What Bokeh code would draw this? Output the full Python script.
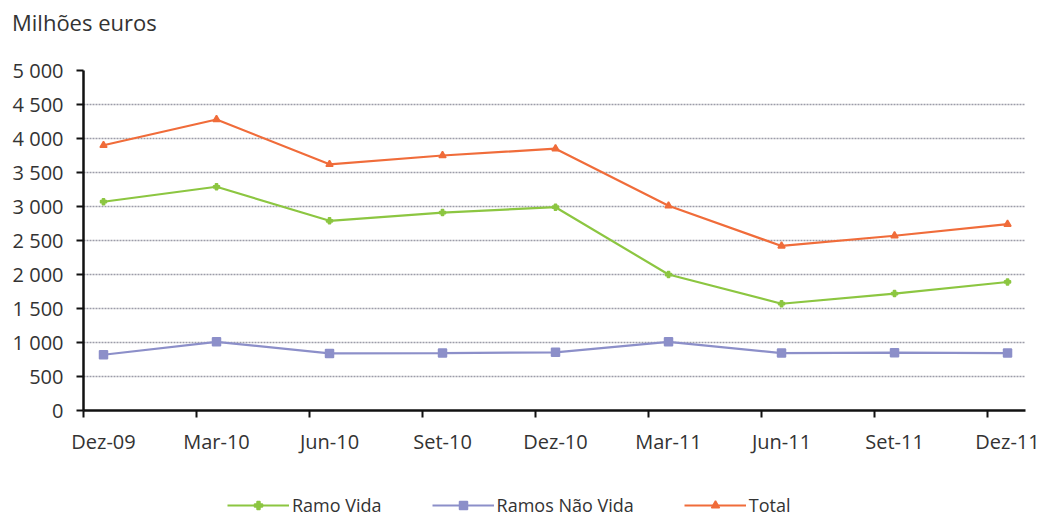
from bokeh.plotting import figure
from bokeh.layouts import column
from bokeh.models import (FixedTicker, LinearAxis, Legend, LegendItem, Range1d, Grid, Div)
from bokeh.embed import file_html
from bokeh.resources import INLINE

categories = ["Dez-09", "Mar-10", "Jun-10", "Set-10", "Dez-10", "Mar-11", "Jun-11", "Set-11", "Dez-11"]
ramo_vida = [3070, 3290, 2790, 2910, 2990, 2000, 1570, 1720, 1890]
ramos_nao_vida = [820, 1010, 840, 845, 855, 1010, 845, 850, 845]
total = [3900, 4280, 3620, 3750, 3850, 3010, 2420, 2570, 2740]
y_ticks = [0, 500, 1000, 1500, 2000, 2500, 3000, 3500, 4000, 4500, 5000]
y_tick_labels = ["0", "500", "1 000", "1 500", "2 000", "2 500", "3 000", "3 500", "4 000", "4 500", "5 000"]
series_names = ["Ramo Vida", "Ramos Não Vida", "Total"]
unit_title = "Milhões euros"

FONT = "Open Sans"
TXT = "#333333"
c_vida = "#8cc641"
c_nao = "#8c8fc9"
c_tot = "#f06c3a"
x = list(range(len(categories)))

# ---- title strip ----
tdiv = Div(text='<div style="padding:7px 0 0 12px">' + unit_title + '</div>',
           width=1040, height=40, margin=0,
           styles={"font-family": FONT, "font-size": "22px", "color": TXT,
                   "line-height": "30px"})

# ---- main chart ----
p = figure(width=1040, height=440, output_backend="svg", toolbar_location=None,
           x_range=Range1d(-0.177, 8.159), y_range=Range1d(0, 5000),
           min_border_left=83, min_border_right=15, min_border_top=30, min_border_bottom=70,
           x_axis_type=None, y_axis_type=None)
p.outline_line_color = None

yax = LinearAxis(ticker=FixedTicker(ticks=y_ticks),
                 major_label_overrides={t: l for t, l in zip(y_ticks, y_tick_labels)})
yax.axis_line_width = 2.5
yax.axis_line_color = "#111111"
yax.major_tick_line_width = 2
yax.major_tick_line_color = "#111111"
yax.major_tick_in = 0
yax.major_tick_out = 7
yax.minor_tick_line_color = None
yax.major_label_text_font = FONT
yax.major_label_text_font_size = "20px"
yax.major_label_text_color = TXT
yax.major_label_standoff = 13
p.add_layout(yax, "left")

xticks = [i - 0.177 for i in x]
xax = LinearAxis(ticker=FixedTicker(ticks=xticks),
                 major_label_overrides={t: "" for t in xticks})
xax.axis_line_width = 2.5
xax.axis_line_color = "#111111"
xax.major_tick_line_width = 2
xax.major_tick_line_color = "#111111"
xax.major_tick_in = 0
xax.major_tick_out = 7
xax.minor_tick_line_color = None
xax.major_label_standoff = 0
p.add_layout(xax, "below")

xlab = LinearAxis(ticker=FixedTicker(ticks=x),
                  major_label_overrides={i: c for i, c in zip(x, categories)})
xlab.axis_line_color = None
xlab.major_tick_line_color = None
xlab.minor_tick_line_color = None
xlab.major_label_text_font = FONT
xlab.major_label_text_font_size = "20px"
xlab.major_label_text_color = TXT
xlab.major_label_standoff = 4
p.add_layout(xlab, "below")

p.add_layout(Grid(dimension=1, ticker=FixedTicker(ticks=y_ticks[1:]),
                  grid_line_color="#9c9ca8", grid_line_dash="2 1", grid_line_width=1.5))

series = [ramo_vida, ramos_nao_vida, total]
colors = [c_vida, c_nao, c_tot]
markers = ["plus", "square", "triangle"]
msizes = [6, 8, 7]
for vals, col, mk, sz in zip(series, colors, markers, msizes):
    p.line(x, vals, line_color=col, line_width=2.2)
    p.scatter(x, vals, marker=mk, size=sz, color=col, line_width=1.5)

# ---- legend strip (series drawn out of view, only their legend glyphs show) ----
lf = figure(width=1040, height=37, output_backend="svg", toolbar_location=None,
            x_range=Range1d(-100, -99), y_range=Range1d(-100, -99),
            x_axis_type=None, y_axis_type=None,
            min_border_left=0, min_border_right=0, min_border_top=0, min_border_bottom=0)
lf.outline_line_color = None
lf.xgrid.visible = False
lf.ygrid.visible = False
items = []
for name, vals, col, mk, sz in zip(series_names, series, colors, markers, [6, 7, 7]):
    lr = lf.line(x, vals, line_color=col, line_width=2.2)
    sr = lf.scatter(x, vals, marker=mk, size=sz, color=col, line_width=1.5)
    items.append(LegendItem(label=name, renderers=[lr, sr]))

legend = Legend(items=items, orientation="horizontal", location=(144, 0),
                label_text_font=FONT, label_text_font_size="18px", label_text_color=TXT,
                glyph_width=62, label_standoff=3, spacing=50,
                border_line_color=None, background_fill_alpha=0,
                margin=0, padding=1)
lf.add_layout(legend)

layout = column(tdiv, p, lf, spacing=0)
open("out.html", "w").write(file_html(layout, INLINE))
